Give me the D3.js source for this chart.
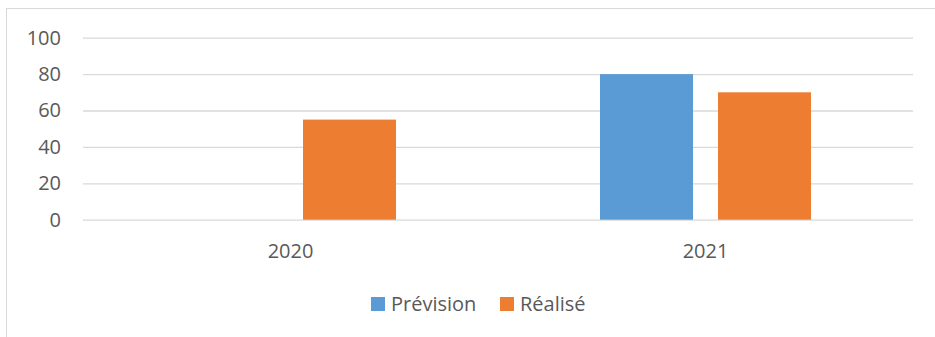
<!DOCTYPE html>
<html><head><meta charset="utf-8">
<script src="https://cdn.jsdelivr.net/npm/d3@7"></script>
<style>body{margin:0;background:#fff;} svg{display:block;} text{font-family:"Open Sans",sans-serif;fill:#595959;}</style>
</head><body><svg id="c" width="935" height="337"></svg>
<script>
const categories = ["2020", "2021"];
const seriesNames = ["Prévision", "Réalisé"];
const prevision = [null, 80];
const realise = [55, 70];
const yTicks = [0, 20, 40, 60, 80, 100];
const colors = ["#5B9BD5", "#ED7D31"];

(function(){
const values = [prevision, realise];
const svg = d3.select("#c");
svg.append("rect").attr("x",6.5).attr("y",8.5).attr("width",940).attr("height",340)
  .attr("fill","none").attr("stroke","#D9D9D9").attr("stroke-width",1);

const pl=83, pr=913, pt=37.7, pb=219.7;
const y = d3.scaleLinear().domain([0,100]).range([pb, pt]);
const x0 = d3.scaleBand().domain(categories).range([pl,pr]).paddingInner(0.4916).paddingOuter(0.2458);
const x1 = d3.scaleBand().domain(seriesNames).range([0,x0.bandwidth()]).paddingInner(0.2119).paddingOuter(0);

const yAxis = d3.axisLeft(y).tickValues(yTicks).tickSize(-(pr-pl)).tickPadding(22);
const gy = svg.append("g").attr("transform",`translate(${pl},0)`).call(yAxis);
gy.select(".domain").remove();
gy.selectAll(".tick line").attr("stroke","#D9D9D9").attr("stroke-width",1.3);
gy.selectAll(".tick text").attr("font-size",20).attr("fill","#595959").attr("font-family","Open Sans");

const g = svg.append("g");
categories.forEach((c,i)=>{
  seriesNames.forEach((s,j)=>{
    const v = values[j][i];
    if (v==null) return;
    g.append("rect").attr("x",x0(c)+x1(s)).attr("y",y(v)).attr("width",x1.bandwidth())
      .attr("height",y(0)-y(v)).attr("fill",colors[j]);
  });
});

const xAxis = d3.axisBottom(x0).tickSize(0).tickPadding(24);
const gx = svg.append("g").attr("transform",`translate(0,${pb})`).call(xAxis);
gx.select(".domain").remove();
gx.selectAll(".tick text").attr("font-size",20).attr("fill","#595959").attr("font-family","Open Sans");

const legendX = [371, 500];
const lg = svg.append("g");
seriesNames.forEach((s,j)=>{
  lg.append("rect").attr("x",legendX[j]).attr("y",297).attr("width",14).attr("height",14).attr("fill",colors[j]);
  lg.append("text").attr("x",legendX[j]+20).attr("y",310.5).attr("font-size",20).text(s);
});
})();
</script></body></html>
